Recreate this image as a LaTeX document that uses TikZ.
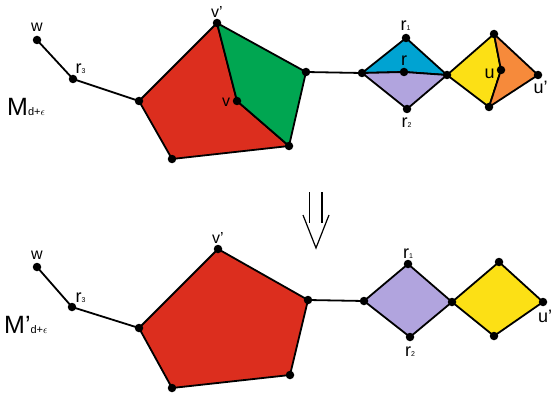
\documentclass[tikz,border=0pt]{standalone}
\usepackage{fontspec}
\setmainfont{Liberation Sans}
\definecolor{cred}{HTML}{DC2E1E}
\definecolor{cgreen}{HTML}{00A651}
\definecolor{cblue}{HTML}{00A3D2}
\definecolor{clav}{HTML}{B1A4DE}
\definecolor{cyel}{HTML}{FCE015}
\definecolor{cora}{HTML}{F68A3B}
\tikzset{
  edge/.style={line width=1.8pt, line join=round},
  face/.style={edge, draw=black},
  dot/.style={circle, fill=black, inner sep=0pt, minimum size=8.5pt},
  lab/.style={inner sep=0pt, font=\fontsize{16}{16}\selectfont},
  labr/.style={inner sep=0pt, font=\fontsize{18}{18}\selectfont}
}
\begin{document}
\begin{tikzpicture}[x=1pt,y=-1pt]
\useasboundingbox (0,0) rectangle (552,404);
% ---------------- top ----------------
\coordinate (w) at (37,40);
\coordinate (r3) at (73,79);
\coordinate (pa) at (139,101);
\coordinate (vp) at (217,23);
\coordinate (pc) at (306,72);
\coordinate (pd) at (289,146);
\coordinate (pe) at (172,159);
\coordinate (v) at (237,101);
\coordinate (da) at (362,73);
\coordinate (r1) at (406,38);
\coordinate (r) at (404,72);
\coordinate (r2) at (407,109);
\coordinate (db) at (447,75);
\coordinate (et) at (494,34);
\coordinate (u) at (501,70);
\coordinate (up) at (538,75);
\coordinate (eb) at (489,107);
\filldraw[face, fill=cred] (pa) -- (vp) -- (v) -- (pd) -- (pe) -- cycle;
\filldraw[face, fill=cgreen] (vp) -- (pc) -- (pd) -- (v) -- cycle;
\filldraw[face, fill=cblue] (da) -- (r1) -- (db) -- (r) -- cycle;
\filldraw[face, fill=clav] (da) -- (r) -- (db) -- (r2) -- cycle;
\filldraw[face, fill=cyel] (db) -- (et) -- (u) -- (eb) -- cycle;
\filldraw[face, fill=cora] (et) -- (up) -- (eb) -- (u) -- cycle;
\draw[edge] (w) -- (r3) -- (pa);
\draw[edge] (pc) -- (da);
\foreach \p in {w,r3,pa,vp,pc,pd,pe,v,da,r1,r,r2,db,et,u,up,eb}
  \node[dot] (n\p) at (\p) {};
\node[lab] (lw) at (37,27) {w};
\node[labr, anchor=base west] (lr3) at (75.5,74) {r\fontsize{7}{7}\selectfont 3};
\node[inner sep=0pt, anchor=base west] (lM) at (7,115.5) {\fontsize{25}{25}\selectfont M\fontsize{11}{11}\selectfont d+$\epsilon$};
\node[lab] (lvp) at (217,12) {v’};
\node[lab] (lv) at (226,102) {v};
\node[labr, anchor=base west] (lr1) at (400.5,30.5) {r\fontsize{7}{7}\selectfont 1};
\node[labr, anchor=base west] (lr) at (401,65.5) {r};
\node[labr, anchor=base west] (lr2) at (401.5,128) {r\fontsize{7}{7}\selectfont 2};
\node[labr, anchor=base west] (lu) at (484.5,78.5) {u};
\node[labr, anchor=base west] (lup) at (533.5,93) {u’};
% ---------------- arrow ----------------
\coordinate (al1) at (309.5,192);
\coordinate (al2) at (309.5,223);
\coordinate (ar1) at (322,192);
\coordinate (ar2) at (322,223);
\coordinate (cl) at (303,215);
\coordinate (ct) at (316,248);
\coordinate (cr) at (329,215);
\draw[line width=1.2pt] (al1) -- (al2);
\draw[line width=1.2pt] (ar1) -- (ar2);
\draw[line width=1.2pt, line join=miter] (cl) -- (ct) -- (cr);
% ---------------- bottom ----------------
\coordinate (Bw) at (37,267);
\coordinate (Br3) at (72,307);
\coordinate (Bpa) at (139,328);
\coordinate (Bvp) at (218,249);
\coordinate (Bpc) at (308,300);
\coordinate (Bpd) at (290,375);
\coordinate (Bpe) at (172,388);
\coordinate (Bda) at (364,301);
\coordinate (Br1) at (408,264);
\coordinate (Br2) at (410,337);
\coordinate (Bdb) at (452,302);
\coordinate (Bet) at (499,262);
\coordinate (Bup) at (543,302);
\coordinate (Beb) at (494,336);
\filldraw[face, fill=cred] (Bpa) -- (Bvp) -- (Bpc) -- (Bpd) -- (Bpe) -- cycle;
\filldraw[face, fill=clav] (Bda) -- (Br1) -- (Bdb) -- (Br2) -- cycle;
\filldraw[face, fill=cyel] (Bdb) -- (Bet) -- (Bup) -- (Beb) -- cycle;
\draw[edge] (Bw) -- (Br3) -- (Bpa);
\draw[edge] (Bpc) -- (Bda);
\foreach \p in {Bw,Br3,Bpa,Bvp,Bpc,Bpd,Bpe,Bda,Br1,Br2,Bdb,Bet,Bup,Beb}
  \node[dot] (n\p) at (\p) {};
\node[lab] (Blw) at (37,255) {w};
\node[labr, anchor=base west] (Blr3) at (75.5,302) {r\fontsize{7}{7}\selectfont 3};
\node[inner sep=0pt, anchor=base west] (BlM) at (4,333.5) {\fontsize{25}{25}\selectfont M’\fontsize{11}{11}\selectfont d+$\epsilon$};
\node[lab] (Blvp) at (218,238) {v’};
\node[labr, anchor=base west] (Blr1) at (403,258) {r\fontsize{7}{7}\selectfont 1};
\node[labr, anchor=base west] (Blr2) at (405,356) {r\fontsize{7}{7}\selectfont 2};
\node[labr, anchor=base west] (Blup) at (538,322) {u’};
\end{tikzpicture}
\end{document}
